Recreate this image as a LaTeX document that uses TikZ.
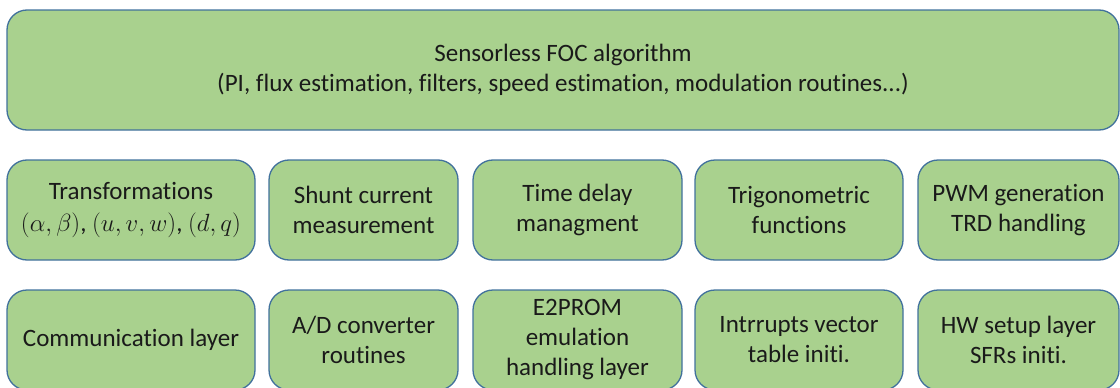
\documentclass[tikz,border=0pt]{standalone}
\usepackage{fontspec}
\setmainfont[Ligatures=NoCommon]{Carlito}
\definecolor{boxfill}{HTML}{A9D18E}
\definecolor{boxline}{HTML}{41719C}
\definecolor{txt}{HTML}{1A1A1A}
\tikzset{
  blk/.style={draw=boxline, line width=1.3pt, fill=boxfill, rounded corners=20pt,
    align=center, text=txt, inner sep=0pt,
    font=\fontsize{25}{30}\selectfont},
}
\begin{document}
\begin{tikzpicture}[x=1pt,y=-1pt]
\useasboundingbox (0,0) rectangle (1120,388);
\clip (0,0) rectangle (1120,388);
\node[blk, minimum width=1112pt, minimum height=120pt] (foc) at (563,70)
  {Sensorless FOC algorithm\\(PI, flux estimation, filters, speed estimation, modulation routines...)};
% row 2
\node[blk, minimum width=248pt, minimum height=100pt] (tr) at (131,210)
  {Transformations\\[2pt]$(\alpha,\beta)$, $(u,v,w)$, $(d,q)$};
\node[blk, minimum width=189pt, minimum height=100pt] (sh) at (363.5,210)
  {Shunt current\\measurement};
\node[blk, minimum width=209pt, minimum height=100pt] (td) at (577.5,210)
  {Time delay\\managment};
\node[blk, minimum width=208pt, minimum height=100pt] (tf) at (799,210)
  {Trigonometric\\functions};
\node[blk, minimum width=201pt, minimum height=100pt] (pw) at (1018.5,210)
  {PWM generation\\TRD handling};
% row 3
\node[blk, minimum width=248pt, minimum height=100pt] (cl) at (131,340)
  {Communication layer};
\node[blk, minimum width=189pt, minimum height=100pt] (ad) at (363.5,340)
  {A/D converter\\routines};
\node[blk, minimum width=209pt, minimum height=100pt] (ee) at (577.5,340)
  {E2PROM\\emulation\\handling layer};
\node[blk, minimum width=208pt, minimum height=100pt] (iv) at (799,340)
  {Intrrupts vector\\table initi.};
\node[blk, minimum width=201pt, minimum height=100pt] (hw) at (1018.5,340)
  {HW setup layer\\SFRs initi.};
\end{tikzpicture}
\end{document}
